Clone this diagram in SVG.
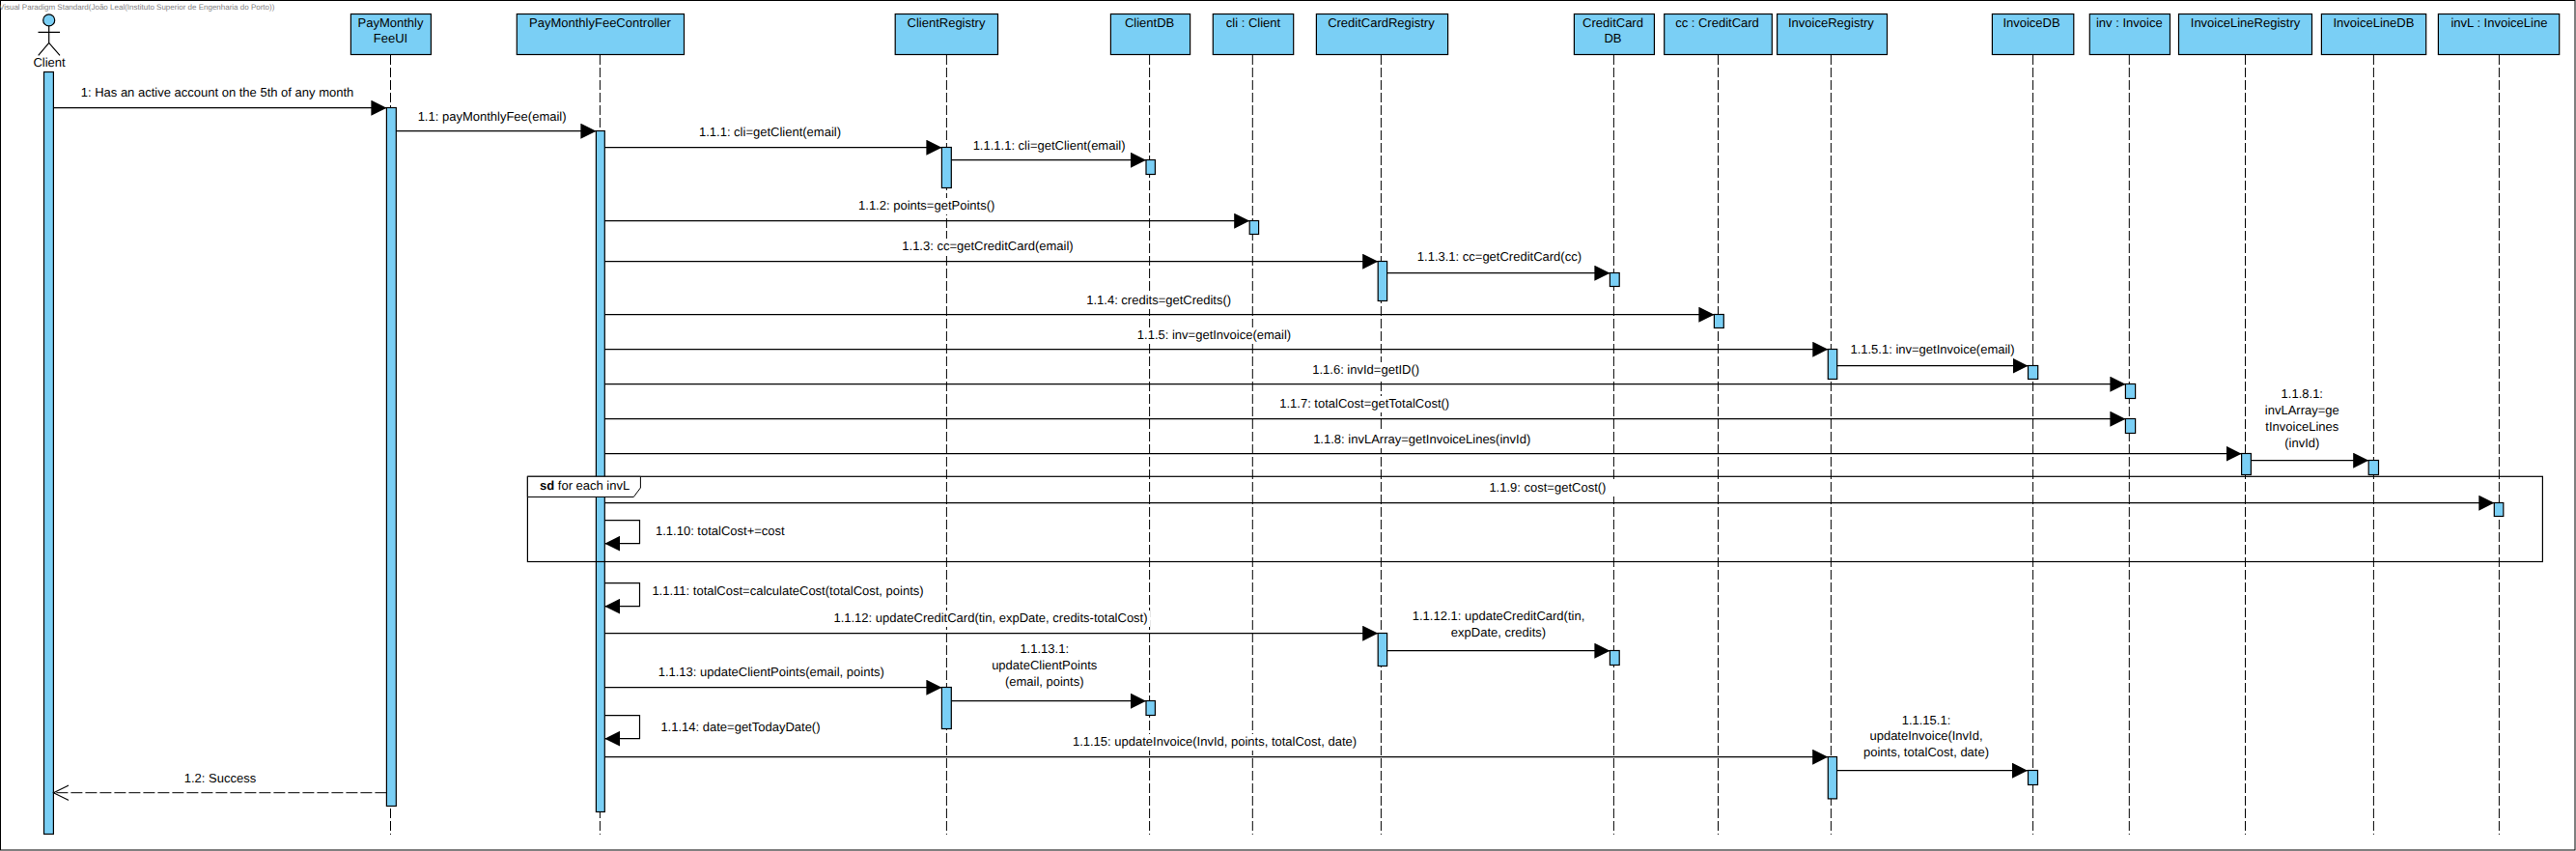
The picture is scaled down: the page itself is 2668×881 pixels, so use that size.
<svg xmlns="http://www.w3.org/2000/svg" width="2668" height="881" viewBox="0 0 2668 881">
<style>
text{font-family:"Liberation Sans",Arial,sans-serif;font-size:13px;fill:#000;text-rendering:geometricPrecision;opacity:.99}
.c{text-anchor:middle}
.h,.b{fill:#7acff5;stroke:#000;stroke-width:1.2}
.h,.b{transform:translateY(.2px)}
.l{stroke:#000;stroke-width:1;stroke-dasharray:10 3;fill:none}
.m{stroke:#000;stroke-width:1.2;fill:none;marker-end:url(#tri)}
.r{stroke:#000;stroke-width:1;stroke-dasharray:12 3;fill:none;marker-end:url(#open)}
.w{fill:#fff}
.a{stroke:#000;stroke-width:1.2;fill:none}
.t{font-size:8px;fill:#808080}
</style>
<defs>
<marker id="tri" markerUnits="userSpaceOnUse" markerWidth="16" markerHeight="16" viewBox="0 0 15 15" refX="15" refY="7.5" orient="auto"><path d="M0 0L15 7.5L0 15Z" fill="#000"/></marker>
<marker id="open" markerUnits="userSpaceOnUse" markerWidth="17" markerHeight="17" viewBox="0 0 16 16" refX="15" refY="8" orient="auto"><path d="M0 .7L15 8L0 15.3" fill="none" stroke="#000" stroke-width="1"/></marker>
</defs>
<rect width="2668" height="881" fill="#fff"/>
<rect x=".5" y=".5" width="2666.5" height="879.5" fill="none" stroke="#000"/>
<text class="t" x="-1" y="10">Visual Paradigm Standard(João Leal(Instituto Superior de Engenharia do Porto))</text>

<g id="client">
<circle class="h" cx="50.7" cy="20.7" r="6"/>
<path class="a" d="M39.5 33.3H62M50.7 26.7V44.3M39.7 57.3L50.7 44.3L62 57.3"/>
<text class="c" x="51" y="69.3">Client</text>
<rect class="b" x="45.5" y="74.3" width="9.9" height="789"/>
</g>
<g id="payMonthlyFeeUI">
<rect class="h" x="363.4" y="14.3" width="83" height="42"/>
<text class="c" x="404.5" y="27.7">PayMonthly</text><text class="c" x="404.5" y="44">FeeUI</text>
<path class="l" d="M404.5 57V864"/>
<rect class="b" x="400.4" y="111.3" width="9.9" height="723"/>
</g>
<g id="payMonthlyFeeController">
<rect class="h" x="535.3" y="14.3" width="173.2" height="42"/>
<text class="c" x="621.4" y="27.7">PayMonthlyFeeController</text>
<path class="l" d="M621.4 57V864"/>
<rect class="b" x="617.4" y="135.3" width="8.9" height="705"/>
</g>
<g id="clientRegistry">
<rect class="h" x="927.2" y="14.3" width="106.3" height="42"/>
<text class="c" x="980" y="27.7">ClientRegistry</text>
<path class="l" d="M980.4 57V864"/>
<rect class="b" x="975.4" y="152.3" width="9.9" height="42"/>
<rect class="b" x="975.4" y="711.3" width="9.9" height="43"/>
</g>
<g id="clientDB">
<rect class="h" x="1150.4" y="14.3" width="82.2" height="42"/>
<text class="c" x="1190.6" y="27.7">ClientDB</text>
<path class="l" d="M1190.6 57V864"/>
<rect class="b" x="1187" y="165.3" width="9.4" height="15"/>
<rect class="b" x="1187" y="725.3" width="9.4" height="15"/>
</g>
<g id="cliClient">
<rect class="h" x="1256.3" y="14.3" width="83.4" height="42"/>
<text class="c" x="1298" y="27.7">cli : Client</text>
<path class="l" d="M1297.3 57V864"/>
<rect class="b" x="1294.2" y="228.3" width="9.4" height="14"/>
</g>
<g id="creditCardRegistry">
<rect class="h" x="1363.4" y="14.3" width="136.2" height="42"/>
<text class="c" x="1430.4" y="27.7">CreditCardRegistry</text>
<path class="l" d="M1430.4 57V864"/>
<rect class="b" x="1427.2" y="270.3" width="9.4" height="41"/>
<rect class="b" x="1427.2" y="655.3" width="9.4" height="34"/>
</g>
<g id="creditCardDB">
<rect class="h" x="1630.4" y="14.3" width="83" height="42"/>
<text class="c" x="1670.5" y="27.7">CreditCard</text><text class="c" x="1670.5" y="44">DB</text>
<path class="l" d="M1671.4 57V864"/>
<rect class="b" x="1667.4" y="282.3" width="9.8" height="14"/>
<rect class="b" x="1667.4" y="673.3" width="9.8" height="15"/>
</g>
<g id="ccCreditCard">
<rect class="h" x="1723.7" y="14.3" width="111.6" height="42"/>
<text class="c" x="1778.5" y="27.7">cc : CreditCard</text>
<path class="l" d="M1779.5 57V864"/>
<rect class="b" x="1775.4" y="325.3" width="9.9" height="14"/>
</g>
<g id="invoiceRegistry">
<rect class="h" x="1840.6" y="14.3" width="113.9" height="42"/>
<text class="c" x="1896.4" y="27.7">InvoiceRegistry</text>
<path class="l" d="M1896.4 57V864"/>
<rect class="b" x="1893.3" y="361.3" width="9.4" height="31"/>
<rect class="b" x="1893.3" y="783.3" width="9.2" height="43.4"/>
</g>
<g id="invoiceDB">
<rect class="h" x="2063.4" y="14.3" width="84.4" height="42"/>
<text class="c" x="2104" y="27.7">InvoiceDB</text>
<path class="l" d="M2105.6 57V864"/>
<rect class="b" x="2100.5" y="378.3" width="10.2" height="14"/>
<rect class="b" x="2100.5" y="797.3" width="10" height="15"/>
</g>
<g id="invInvoice">
<rect class="h" x="2164.3" y="14.3" width="83.2" height="42"/>
<text class="c" x="2205.3" y="27.7">inv : Invoice</text>
<path class="l" d="M2205.3 57V864"/>
<rect class="b" x="2201.4" y="397.3" width="10.2" height="15"/>
<rect class="b" x="2201.4" y="433.3" width="10.2" height="15"/>
</g>
<g id="invoiceLineRegistry">
<rect class="h" x="2256.5" y="14.3" width="138" height="42"/>
<text class="c" x="2325.5" y="27.7">InvoiceLineRegistry</text>
<path class="l" d="M2325.5 57V864"/>
<rect class="b" x="2321.6" y="469.3" width="9.8" height="22"/>
</g>
<g id="invoiceLineDB">
<rect class="h" x="2404.4" y="14.3" width="108.3" height="42"/>
<text class="c" x="2458.4" y="27.7">InvoiceLineDB</text>
<path class="l" d="M2458.4 57V864"/>
<rect class="b" x="2453.2" y="476.3" width="10.3" height="15"/>
</g>
<g id="invLInvoiceLine">
<rect class="h" x="2525.4" y="14.3" width="125.3" height="42"/>
<text class="c" x="2588.4" y="27.7">invL : InvoiceLine</text>
<path class="l" d="M2588.4 57V864"/>
<rect class="b" x="2583.3" y="520.3" width="9.5" height="14"/>
</g>

<g id="labels">
<rect class="w" x="888" y="205" width="144" height="17"/>
<rect class="w" x="933" y="247" width="180" height="17"/>
<rect class="w" x="1124" y="303" width="152" height="17"/>
<rect class="w" x="1176" y="339" width="163" height="17"/>
<rect class="w" x="1359" y="375" width="112" height="17"/>
<rect class="w" x="1324" y="410" width="179" height="17"/>
<rect class="w" x="1359" y="447" width="228" height="17"/>
<rect class="w" x="1541" y="497" width="131" height="17"/>
<rect class="w" x="861" y="632" width="330" height="17"/>
<rect class="w" x="1109" y="760" width="298" height="17"/>
<text class="c" x="225" y="100">1: Has an active account on the 5th of any month</text>
<text class="c" x="509.6" y="125">1.1: payMonthlyFee(email)</text>
<text class="c" x="797.5" y="140.7">1.1.1: cli=getClient(email)</text>
<text class="c" x="1086.6" y="154.7">1.1.1.1: cli=getClient(email)</text>
<text class="c" x="959.7" y="216.7">1.1.2: points=getPoints()</text>
<text class="c" x="1023" y="258.7">1.1.3: cc=getCreditCard(email)</text>
<text class="c" x="1552.9" y="269.7">1.1.3.1: cc=getCreditCard(cc)</text>
<text class="c" x="1200.2" y="315">1.1.4: credits=getCredits()</text>
<text class="c" x="1257.5" y="350.7">1.1.5: inv=getInvoice(email)</text>
<text class="c" x="2001.5" y="366">1.1.5.1: inv=getInvoice(email)</text>
<text class="c" x="1414.7" y="386.7">1.1.6: invId=getID()</text>
<text class="c" x="1413.2" y="421.7">1.1.7: totalCost=getTotalCost()</text>
<text class="c" x="1472.7" y="458.7">1.1.8: invLArray=getInvoiceLines(invId)</text>
<text class="c" x="2384.3" y="411.7">1.1.8.1:</text>
<text class="c" x="2384.3" y="428.7">invLArray=ge</text>
<text class="c" x="2384.3" y="445.7">tInvoiceLines</text>
<text class="c" x="2384.3" y="462.7">(invId)</text>
<text class="c" x="1602.9" y="508.7">1.1.9: cost=getCost()</text>
<text x="679" y="554.3">1.1.10: totalCost+=cost</text>
<text x="675.4" y="615.7">1.1.11: totalCost=calculateCost(totalCost, points)</text>
<text class="c" x="1026" y="644">1.1.12: updateCreditCard(tin, expDate, credits-totalCost)</text>
<text class="c" x="1552" y="642">1.1.12.1: updateCreditCard(tin,</text>
<text class="c" x="1552" y="659">expDate, credits)</text>
<text x="681.7" y="700">1.1.13: updateClientPoints(email, points)</text>
<text class="c" x="1081.7" y="676">1.1.13.1:</text>
<text class="c" x="1081.7" y="693">updateClientPoints</text>
<text class="c" x="1081.7" y="710">(email, points)</text>
<text x="684.4" y="756.7">1.1.14: date=getTodayDate()</text>
<text class="c" x="1258" y="772">1.1.15: updateInvoice(InvId, points, totalCost, date)</text>
<text class="c" x="1995" y="749.7">1.1.15.1:</text>
<text class="c" x="1995" y="766">updateInvoice(InvId,</text>
<text class="c" x="1995" y="783">points, totalCost, date)</text>
<text class="c" x="228" y="810">1.2: Success</text>
</g>

<g id="connectors" transform="translate(0 .4)">
<path class="m" d="M55.4 111.3H400.4"/>
<path class="m" d="M410.3 135.3H617.4"/>
<path class="m" d="M626.3 152.3H975.4"/>
<path class="m" d="M985.3 165.3H1187"/>
<path class="m" d="M626.3 228.3H1294.2"/>
<path class="m" d="M626.3 270.3H1427.2"/>
<path class="m" d="M1436.6 282.3H1667.4"/>
<path class="m" d="M626.3 325.3H1775.4"/>
<path class="m" d="M626.3 361.3H1893.3"/>
<path class="m" d="M1902.7 378.3H2100.5"/>
<path class="m" d="M626.3 397.3H2201.4"/>
<path class="m" d="M626.3 433.3H2201.4"/>
<path class="m" d="M626.3 469.3H2321.6"/>
<path class="m" d="M2331.4 476.3H2453.2"/>
<path class="m" d="M626.3 520.3H2583.3"/>
<path class="m" d="M626.3 538.3H662.5V562.3H626.3"/>
<path class="m" d="M626.3 603.3H662.5V627.3H626.3"/>
<path class="m" d="M626.3 655.3H1427.2"/>
<path class="m" d="M1436.6 673.3H1667.4"/>
<path class="m" d="M626.3 711.3H975.4"/>
<path class="m" d="M985.3 725.3H1187"/>
<path class="m" d="M626.3 740.3H662.5V764.3H626.3"/>
<path class="m" d="M626.3 783.3H1893.2"/>
<path class="m" d="M1902.5 797.3H2100"/>
<path class="r" d="M400.4 820.3H55.4"/>
</g>

<g id="fragment">
<rect x="546.4" y="493.3" width="2087" height="88.2" fill="none" stroke="#000" stroke-width="1.2"/>
<path d="M546.4 493.3H663.4V505L656.3 514.5H546.4Z" fill="#fff" stroke="#000"/>
<text x="559" y="506.7"><tspan font-weight="bold">sd</tspan> for each invL</text>
</g>
</svg>
